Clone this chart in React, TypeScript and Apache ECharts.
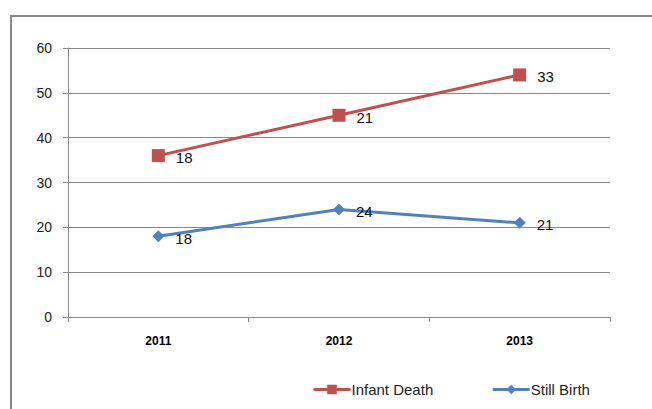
import React, { useEffect, useRef } from "react";
import * as echarts from "echarts";

const years = ["2011", "2012", "2013"];
const stillBirth = [18, 24, 21];
const infantDeath = [18, 21, 33];
const yTicks = [0, 10, 20, 30, 40, 50, 60];

export default function App() {
  const ref = useRef<HTMLDivElement>(null);
  useEffect(() => {
    if (!ref.current) return;
    const chart = echarts.init(ref.current, null, { renderer: "svg" });
    const labelStyle = {
      show: true,
      position: "right" as const,
      distance: 11,
      offset: [0, 2],
      color: "#111",
      fontSize: 15,
      fontFamily: "Liberation Sans",
    };
    chart.setOption({
      animation: false,
      backgroundColor: "#fff",
      graphic: [
        {
          type: "rect",
          shape: { x: 11, y: 16, width: 700, height: 500 },
          style: { fill: "none", stroke: "#888", lineWidth: 2 },
          silent: true,
        },
      ],
      grid: { left: 68, right: 42, top: 48, bottom: 92 },
      legend: {
        left: 307,
        top: 377,
        itemWidth: 37,
        itemHeight: 12,
        itemGap: 58,
        lineStyle: { width: 3 },
        textStyle: { fontSize: 15, color: "#222", fontFamily: "Liberation Sans", padding: [0, 0, 0, -4] },
        data: ["Infant Death", "Still Birth"],
      },
      xAxis: {
        type: "category",
        data: years,
        boundaryGap: true,
        axisLine: { lineStyle: { color: "#888", width: 1 } },
        axisTick: { show: true, length: 5, lineStyle: { color: "#888" } },
        axisLabel: { color: "#000", fontWeight: "bold", fontSize: 12, margin: 18, fontFamily: "Liberation Sans" },
      },
      yAxis: {
        type: "value",
        min: yTicks[0],
        max: yTicks[yTicks.length - 1],
        interval: 10,
        axisLine: { show: true, lineStyle: { color: "#888", width: 1 } },
        axisTick: { show: true, length: 5, lineStyle: { color: "#888" } },
        axisLabel: { color: "#222", fontSize: 14, margin: 16, fontFamily: "Liberation Sans" },
        splitLine: { show: true, lineStyle: { color: "#888", width: 1 } },
      },
      series: [
        {
          name: "Still Birth",
          type: "line",
          stack: "total",
          data: stillBirth,
          symbol: "diamond",
          symbolSize: 12,
          itemStyle: { color: "#4F81BD" },
          lineStyle: { color: "#4F81BD", width: 3 },
          label: labelStyle,
          z: 3,
        },
        {
          name: "Infant Death",
          type: "line",
          stack: "total",
          data: infantDeath,
          symbol: "rect",
          symbolSize: 13,
          itemStyle: { color: "#C0504D" },
          lineStyle: { color: "#C0504D", width: 3 },
          label: labelStyle,
          z: 3,
        },
      ],
    });
    return () => chart.dispose();
  }, []);
  return (
    <div
      ref={ref}
      style={{ position: "fixed", left: 0, top: 0, width: 652, height: 409 }}
    />
  );
}
